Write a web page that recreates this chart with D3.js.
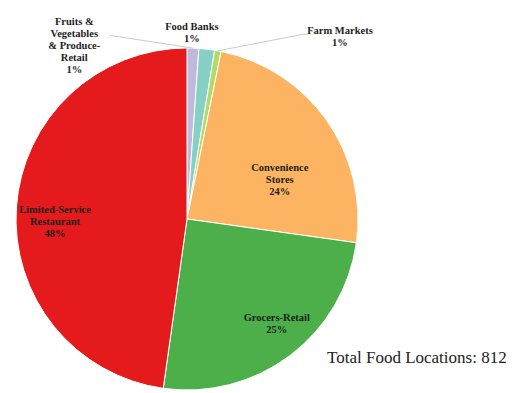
<!DOCTYPE html>
<html>
<head>
<meta charset="utf-8">
<script src="https://cdn.jsdelivr.net/npm/d3@7"></script>
<style>
  body { margin: 0; background: #fff; }
  svg { display: block; }
  text { font-family: "Liberation Serif", "Times New Roman", Times, serif; }
</style>
</head>
<body>
<svg id="chart" width="530" height="393"></svg>
<script>
// data (812 locations in total)
const categories = ["Fruits & Vegetables & Produce-Retail", "Food Banks", "Farm Markets",
    "Convenience Stores", "Grocers-Retail", "Limited-Service Restaurant"];
const counts = [9, 12, 5, 195, 203, 388];
const labelLines = [
    ["Fruits &", "Vegetables", "& Produce-", "Retail"],
    ["Food Banks"],
    ["Farm Markets"],
    ["Convenience", "Stores"],
    ["Grocers-Retail"],
    ["Limited-Service", "Restaurant"]
];
const totalLabel = "Total Food Locations: ";

const colors = ["#bfbadb", "#86d0c6", "#b0dc66", "#fdb462", "#4caf4a", "#e41a1c"];

// label placement, polar (degrees clockwise from 12 o'clock, px from centre)
const labelPos = [
    {a: -33, r: 207},
    {a: 1.5, r: 187},
    {a: 40, r: 238},
    {a: 66.7, r: 101},
    {a: 139.4, r: 138},
    {a: 269, r: 132}
];
// leader lines: from slice edge to these polar points
const leaders = {
    0: [{a: -22.7, r: 199}],
    2: [{a: 32.1, r: 218}, {a: 33.2, r: 221}]
};

const cx = 187, cy = 219, radius = 171;
const total = d3.sum(counts);
const pct = d3.format(".0%");
const rad = deg => deg * Math.PI / 180;

const svg = d3.select("#chart");
const g = svg.append("g").attr("transform", `translate(${cx},${cy})`);

const pie = d3.pie().sort(null).value(d => d)(counts);
const arc = d3.arc().innerRadius(0).outerRadius(radius);

g.selectAll("path.slice")
    .data(pie)
    .enter()
    .append("path")
    .attr("class", "slice")
    .attr("d", arc)
    .attr("fill", (d, i) => colors[i])
    .attr("stroke", "#fff")
    .attr("stroke-width", 1);

// leader lines
Object.keys(leaders).forEach(k => {
    const d = pie[+k];
    const mid = (d.startAngle + d.endAngle) / 2;
    const pts = [d3.pointRadial(mid, radius)]
        .concat(leaders[k].map(p => d3.pointRadial(rad(p.a), p.r)));
    g.append("path")
        .attr("d", d3.line()(pts))
        .attr("fill", "none")
        .attr("stroke", "#c9c9c9")
        .attr("stroke-width", 1);
});

// labels
const lineH = 12;
pie.forEach((d, i) => {
    const lines = labelLines[i].concat([pct(counts[i] / total)]);
    const [x, y] = d3.pointRadial(rad(labelPos[i].a), labelPos[i].r);
    const t = g.append("text")
        .attr("text-anchor", "middle")
        .attr("font-weight", "bold")
        .attr("font-size", 10.5)
        .attr("fill", "#1e1e1e");
    lines.forEach((s, j) => {
        t.append("tspan")
            .attr("x", x)
            .attr("y", y + (j - (lines.length - 1) / 2) * lineH)
            .attr("dy", "0.35em")
            .text(s);
    });
});

svg.append("text")
    .attr("x", 327)
    .attr("y", 363)
    .attr("font-size", 17)
    .attr("fill", "#222")
    .text(totalLabel + total);
</script>
</body>
</html>
